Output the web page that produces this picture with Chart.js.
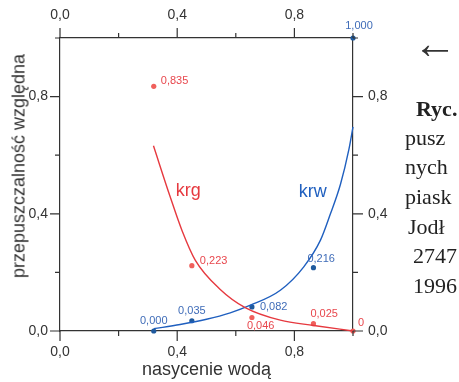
<!DOCTYPE html>
<html>
<head>
<meta charset="utf-8">
<script src="https://cdn.jsdelivr.net/npm/chart.js@4/dist/chart.umd.min.js"></script>
<style>
  html, body { margin: 0; padding: 0; background: #fff; overflow: hidden; }
  #wrap { position: relative; width: 459px; height: 382px; overflow: hidden; }
  #chart { position: absolute; left: 0; top: 0; }
  .ytitle {
    position: absolute; left: 19px; top: 166px;
    transform: translate(-50%, -50%) rotate(-90deg);
    font: 18px "Liberation Sans", Arial, sans-serif; color: #333; white-space: nowrap;
  }
  .page { position: absolute; font: 22px "Liberation Serif", serif; color: #222; white-space: nowrap; }
  .arrow { position: absolute; left: 413px; top: 18px; font: 44px "Liberation Serif", serif; color: #333; }
</style>
</head>
<body>
<div id="wrap">
  <canvas id="chart" width="459" height="382"></canvas>
  <div class="ytitle">przepuszczalność względna</div>
  <div class="arrow">←</div>
  <div class="page" style="left:416px;top:96px;font-weight:bold">Ryc.</div>
  <div class="page" style="left:405px;top:125px">pusz</div>
  <div class="page" style="left:405px;top:154px">nych</div>
  <div class="page" style="left:405px;top:184px">piask</div>
  <div class="page" style="left:408px;top:214px">Jodł</div>
  <div class="page" style="left:413px;top:243px">2747</div>
  <div class="page" style="left:413px;top:273px">1996</div>
</div>
<script>
// measured points (water saturation vs relative permeability)
const swPoints = [0.32, 0.45, 0.655, 0.865, 1.0]
const krgPoints = [0.835, 0.223, 0.046, 0.025, 0]
const krwPoints = [0.0, 0.035, 0.082, 0.216, 1.0]
const krgLabels = ["0,835", "0,223", "0,046", "0,025", "0"]
const krwLabels = ["0,000", "0,035", "0,082", "0,216", "1,000"]

// fitted curves
const krgCurveSw = [0.319, 0.376, 0.416, 0.4615, 0.547, 0.632, 0.752, 0.866, 1.0]
const krgCurve = [0.632, 0.458, 0.344, 0.242, 0.142, 0.080, 0.037, 0.019, 0.0]
const krwCurveSw = [0.32, 0.41, 0.50, 0.581, 0.650, 0.752, 0.832, 0.889, 0.923, 0.957, 0.986, 1.0]
const krwCurve = [0.008, 0.022, 0.040, 0.062, 0.088, 0.139, 0.219, 0.310, 0.400, 0.500, 0.620, 0.697]

const axisTicks = [0, 0.2, 0.4, 0.6, 0.8, 1.0]
const tickLabels = ["0,0", "", "0,4", "", "0,8", ""]

// label placement (px offset from point, alignment)
const krgLabelPos = [[7, -5, "left"], [8, -5, "left"], [-5, 8, "left"], [-3, -10, "left"], [5, -8, "left"]]
const krwLabelPos = [[0, -10, "center"], [0, -10, "center"], [8, 0, "left"], [-6, -9, "left"], [6, -12, "center"]]

const RED = "#e6393f"
const BLUE = "#1f5fbf"
const AXIS = "#333"
const tickFont = { family: "'Liberation Sans', Arial", size: 14 }

const toXY = (xs, ys) => xs.map((x, i) => ({ x: x, y: ys[i] }))

const makeScale = (position, size) => ({
  type: "linear",
  position: position,
  min: 0,
  max: 1,
  afterBuildTicks: (scale) => { scale.ticks = axisTicks.map((v) => ({ value: v })) },
  afterFit: (scale) => {
    if (position === "left" || position === "right") scale.width = size
    else scale.height = size
  },
  grid: { drawOnChartArea: false, drawTicks: true, tickLength: 10, color: "transparent" },
  border: { display: true, color: AXIS, width: 1.2 },
  ticks: {
    autoSkip: false,
    maxRotation: 0,
    color: AXIS,
    font: tickFont,
    padding: position === "right" ? 5 : position === "top" ? 4 : position === "left" ? 2 : 3,
    callback: (v, i) => tickLabels[i],
  },
})

const axisDecor = {
  id: "axisDecor",
  afterDraw(chart) {
    const ctx = chart.ctx
    const s = chart.scales
    const area = chart.chartArea
    ctx.save()
    ctx.strokeStyle = AXIS
    ctx.lineWidth = 1.2
    // tick marks, long for labelled values
    axisTicks.forEach((v, i) => {
      const len = tickLabels[i] ? 10 : 5
      const px = s.x.getPixelForValue(v)
      const py = s.y.getPixelForValue(v)
      ctx.beginPath()
      ctx.moveTo(px, area.bottom); ctx.lineTo(px, area.bottom + len)
      ctx.moveTo(px, area.top); ctx.lineTo(px, area.top - len)
      ctx.moveTo(area.left, py); ctx.lineTo(area.left - len, py)
      ctx.moveTo(area.right, py); ctx.lineTo(area.right + len, py)
      ctx.stroke()
    })

    // value labels next to points
    ctx.font = "11px 'Liberation Sans', Arial"
    ctx.textBaseline = "middle"
    const drawLabels = (vals, texts, pos, color) => {
      ctx.fillStyle = color
      vals.forEach((k, i) => {
        const px = s.x.getPixelForValue(swPoints[i])
        const py = s.y.getPixelForValue(k)
        ctx.textAlign = pos[i][2]
        ctx.fillText(texts[i], px + pos[i][0], py + pos[i][1])
      })
    }
    drawLabels(krgPoints, krgLabels, krgLabelPos, "#e8474d")
    drawLabels(krwPoints, krwLabels, krwLabelPos, "#3f6cb8")

    // curve names
    ctx.font = "18px 'Liberation Sans', Arial"
    ctx.textAlign = "center"
    ctx.fillStyle = RED
    ctx.fillText("krg", s.x.getPixelForValue(0.438), s.y.getPixelForValue(0.478))
    ctx.fillStyle = BLUE
    ctx.fillText("krw", s.x.getPixelForValue(0.863), s.y.getPixelForValue(0.476))
    ctx.restore()
  },
}

new Chart(document.getElementById("chart"), {
  type: "scatter",
  data: {
    datasets: [
      {
        label: "krg curve",
        data: toXY(krgCurveSw, krgCurve),
        showLine: true,
        borderColor: RED,
        borderWidth: 1.4,
        pointRadius: 0,
        cubicInterpolationMode: "monotone",
      },
      {
        label: "krw curve",
        data: toXY(krwCurveSw, krwCurve),
        showLine: true,
        borderColor: BLUE,
        borderWidth: 1.4,
        pointRadius: 0,
        cubicInterpolationMode: "monotone",
      },
      {
        label: "krg",
        data: toXY(swPoints, krgPoints),
        pointRadius: 2.6,
        pointBackgroundColor: "#f0605c",
        pointBorderWidth: 0,
      },
      {
        label: "krw",
        data: toXY(swPoints, krwPoints),
        pointRadius: 2.6,
        pointBackgroundColor: "#1f5a9e",
        pointBorderWidth: 0,
      },
    ],
  },
  options: {
    responsive: false,
    animation: false,
    clip: false,
    layout: { padding: 0 },
    plugins: { legend: { display: false }, tooltip: { enabled: false } },
    scales: {
      x: {
        ...makeScale("bottom", 51),
        title: {
          display: true,
          text: "nasycenie wodą",
          color: AXIS,
          font: { family: "'Liberation Sans', Arial", size: 18 },
          padding: { top: 0, bottom: 1 },
        },
      },
      x2: makeScale("top", 38),
      y: makeScale("left", 60),
      y2: makeScale("right", 106),
    },
  },
  plugins: [axisDecor],
})
</script>
</body>
</html>
